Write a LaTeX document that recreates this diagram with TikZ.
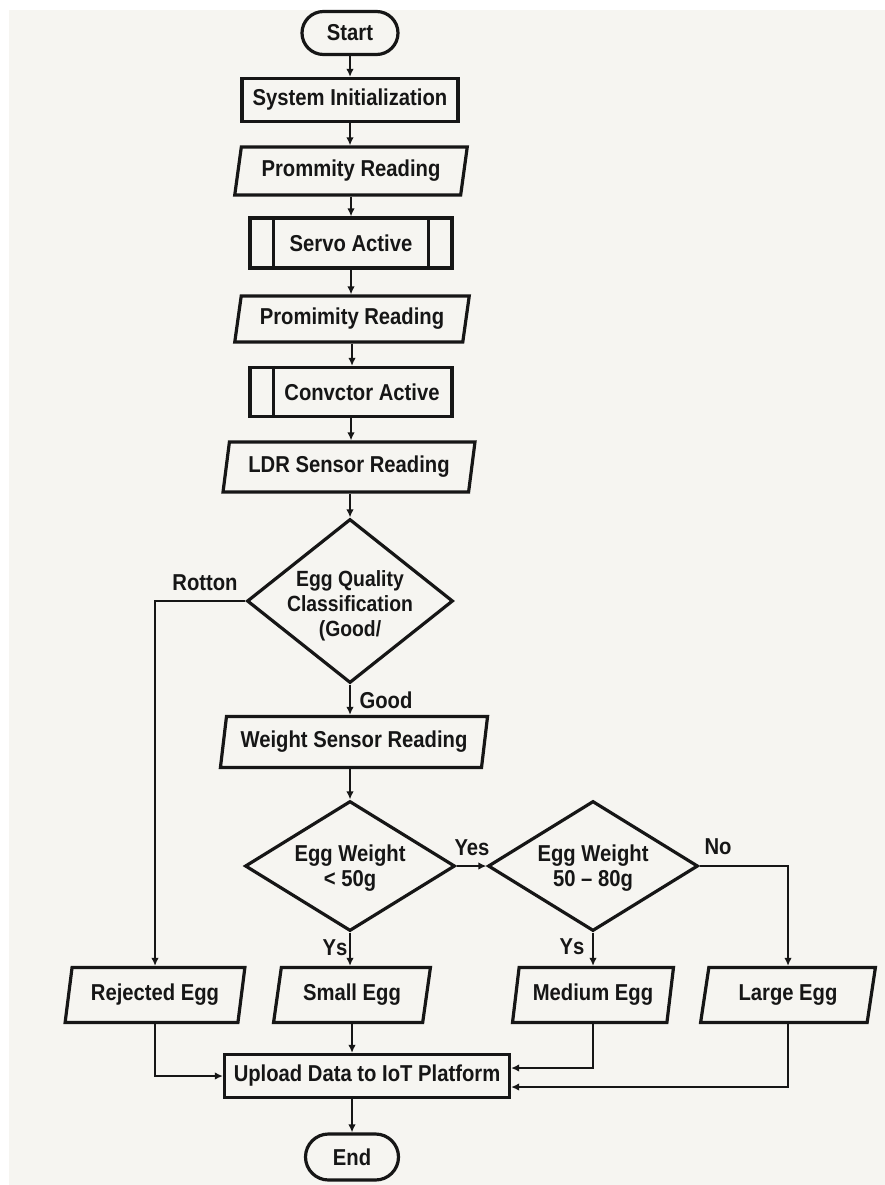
\documentclass[tikz,border=0pt]{standalone}
\usepackage{fontspec}
\setmainfont{Liberation Sans}[FakeStretch=0.88]
\usetikzlibrary{shapes.geometric,shapes.misc,arrows.meta}
\definecolor{ink}{HTML}{161616}
\definecolor{paper}{HTML}{F6F5F1}
\newcommand{\dtext}[2]{\raisebox{#1}[\height][\depth]{\begin{tabular}{@{}c@{}}#2\end{tabular}}}
\begin{document}
\begin{tikzpicture}[x=1pt,y=-1pt,
 every node/.style={text=ink, font=\bfseries\fontsize{23}{25}\selectfont},
 base/.style={draw=ink, line width=3.2pt, align=center, inner sep=0pt},
 term/.style={base, rounded rectangle, minimum width=96pt, minimum height=43pt},
 proc/.style={base, rectangle, minimum height=43pt},
 io/.style={base, trapezium, trapezium left angle=76, trapezium right angle=104, trapezium stretches=true},
 dec/.style={base, diamond},
 arr/.style={draw=ink, line width=2.3pt, -{Latex[length=8pt,width=7.5pt]}},
 lbl/.style={inner sep=0pt}
]
\useasboundingbox (0,0) rectangle (885,1185);
\fill[white] (0,0) rectangle (885,1185);
\fill[paper] (9,10) rectangle (885,1185);

\node[term] (start) at (350,33) {Start};
\node[proc, minimum width=216pt] (init) at (350,100) {System Initialization};
\node[io, minimum width=233pt, minimum height=48pt] (prox1) at (351,171) {Prommity Reading};
\node[proc, minimum width=202pt, minimum height=50pt] (servo) at (351,243) {Servo Active};
\node[io, minimum width=235pt, minimum height=46pt] (prox2) at (352,319) {Promimity Reading};
\node[proc, minimum width=202pt, minimum height=49pt] (conv) at (351,392) {\hspace*{22pt}Convctor Active};
\node[io, minimum width=252pt, minimum height=50pt] (ldr) at (349,467) {LDR Sensor Reading};
\node[dec, minimum width=206pt, minimum height=164pt, aspect=1.26, inner sep=-14pt, font=\bfseries\fontsize{22}{25}\selectfont] (qual) at (350,601) {\dtext{-5pt}{Egg Quality\\Classification\\(Good/}};
\node[io, minimum width=268pt, minimum height=51pt] (wsr) at (354,742) {Weight Sensor Reading};
\node[dec, minimum width=210pt, minimum height=130pt, aspect=1.6, inner sep=-4pt] (w1) at (350,866) {\dtext{-3pt}{Egg Weight\\< 50g}};
\node[dec, minimum width=210pt, minimum height=130pt, aspect=1.6, inner sep=-4pt] (w2) at (593,866) {\dtext{-3pt}{Egg Weight\\50 -- 80g}};
\node[io, minimum width=180pt, minimum height=55pt] (rej) at (155,995) {Rejected Egg};
\node[io, minimum width=157pt, minimum height=55pt] (small) at (352,995) {Small Egg};
\node[io, minimum width=161pt, minimum height=55pt] (med) at (593,995) {Medium Egg};
\node[io, minimum width=175pt, minimum height=55pt] (large) at (788,995) {Large Egg};
\node[proc, minimum width=285pt] (up) at (367,1076) {Upload Data to IoT Platform};
\node[term, minimum width=93pt, minimum height=46pt] (end) at (352,1157) {End};

\draw[line width=3.2pt, draw=ink] ([xshift=25pt]servo.north west) -- ([xshift=25pt]servo.south west);
\draw[line width=3.2pt, draw=ink] ([xshift=-25pt]servo.north east) -- ([xshift=-25pt]servo.south east);
\draw[line width=3.2pt, draw=ink] ([xshift=25pt]conv.north west) -- ([xshift=25pt]conv.south west);

\draw[arr] (start.south) -- (start.south |- init.north);
\draw[arr] (init.south) -- (init.south |- prox1.north);
\draw[arr] (prox1.south) -- (prox1.south |- servo.north);
\draw[arr] (servo.south) -- (servo.south |- prox2.north);
\draw[arr] (prox2.south) -- (prox2.south |- conv.north);
\draw[arr] (conv.south) -- (conv.south |- ldr.north);
\draw[arr] (ldr.south -| qual.north) -- (qual.north);
\draw[arr] (qual.west) -| (rej.north);
\draw[arr] (qual.south) -- (qual.south |- wsr.north);
\draw[arr] (wsr.south -| w1.north) -- (w1.north);
\draw[arr] (w1.east) -- (w2.west);
\draw[arr] (w2.east) -| (large.north);
\draw[arr] (w1.south) -- (w1.south |- small.north);
\draw[arr] (w2.south) -- (w2.south |- med.north);
\draw[arr] (rej.south) |- (up.west);
\draw[arr] (small.south) -- (small.south |- up.north);
\draw[arr] (med.south) |- ([yshift=8pt]up.east);
\draw[arr] (large.south) |- ([yshift=-11pt]up.east);
\draw[arr] (up.south -| end.north) -- (end.north);

\node[lbl] (lrot) at (205,583) {Rotton};
\node[lbl] (lgood) at (386,700) {Good};
\node[lbl] (lyes) at (472,848) {Yes};
\node[lbl] (lno) at (718,847) {No};
\node[lbl] (lys1) at (335,948) {Ys};
\node[lbl] (lys2) at (572,947) {Ys};
\end{tikzpicture}
\end{document}
